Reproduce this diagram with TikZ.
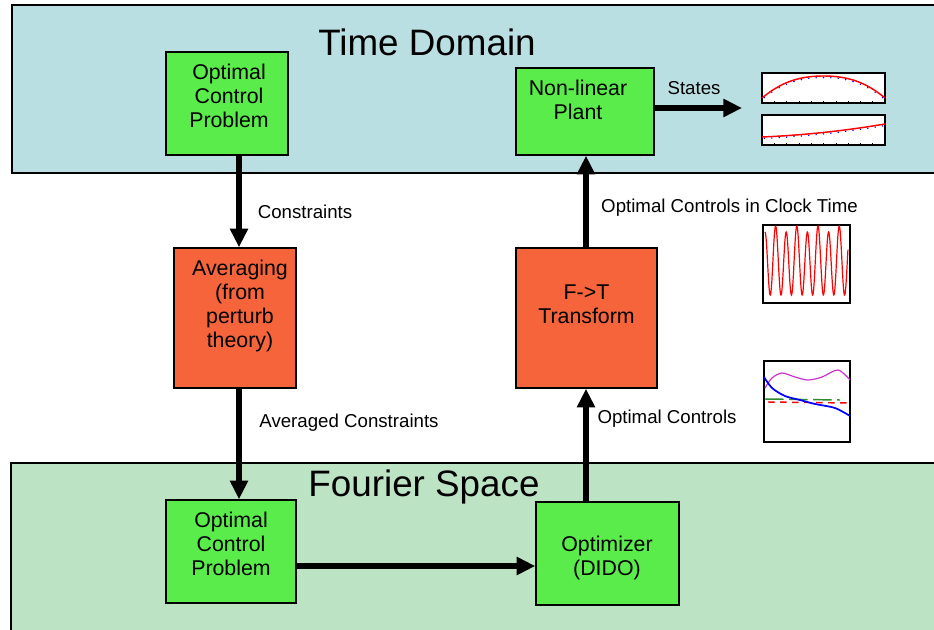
\documentclass[tikz,border=0pt]{standalone}
\usepackage{fontspec}
\setmainfont{Liberation Sans}
\usetikzlibrary{arrows.meta}
\definecolor{tdblue}{HTML}{B9DFE2}
\definecolor{fsgreen}{HTML}{BBE3C4}
\definecolor{boxgreen}{HTML}{59EC4A}
\definecolor{boxorange}{HTML}{F6643C}
\definecolor{plotmag}{HTML}{CC33CC}
\definecolor{plotgreen}{HTML}{2E8B2E}
\begin{document}
\begin{tikzpicture}[x=0.75pt,y=-0.75pt,
  panel/.style={draw=black, line width=1.5pt},
  gbox/.style={draw=black, line width=1.1pt, fill=boxgreen, inner sep=0pt},
  obox/.style={draw=black, line width=1.1pt, fill=boxorange, inner sep=0pt},
  btxt/.style={font=\fontsize{16}{18}\selectfont, align=center, inner sep=0pt},
  ltxt/.style={font=\fontsize{14}{16}\selectfont, inner sep=0pt},
  ttxt/.style={font=\fontsize{27.6}{30}\selectfont, inner sep=0pt},
  arr/.style={line width=4pt, -{Triangle[length=14pt,width=13pt]}},
  pframe/.style={draw=black, line width=0.9pt, fill=white, inner sep=0pt},
  curve/.style={line width=1.1pt}
]
\useasboundingbox (0,0) rectangle (934,630);
\clip (0,0) rectangle (934,630);
\fill[white] (0,0) rectangle (934,630);

% panels
\draw[panel, fill=tdblue] (12,5) rectangle (945,173);
\draw[panel, fill=fsgreen] (11,463) rectangle (945,645);
\node[ttxt] (tdtitle) at (427,42) {Time Domain};
\node[ttxt] (fstitle) at (424,487) {Fourier Space};

% boxes
\node[gbox, minimum width=91.5pt, minimum height=77.25pt] (ocp1) at (227,103.5) {};
\node[btxt] (ocp1t) at (229,96) {Optimal\\Control\\Problem};

\node[gbox, minimum width=103.5pt, minimum height=65.25pt] (plant) at (585,111.5) {};
\node[btxt] (plantt) at (578,100) {Non-linear\\Plant};

\node[obox, minimum width=91.5pt, minimum height=105pt] (avg) at (235,318) {};
\node[btxt] (avgt) at (240,306) {Averaging\\(from\\perturb\\theory)};

\node[obox, minimum width=105.75pt, minimum height=105pt] (ft) at (586.5,318) {};
\node[btxt] (ftt) at (586.5,304) {F-{}>T\\Transform};

\node[gbox, minimum width=97.5pt, minimum height=77.25pt] (ocp2) at (231,551.5) {};
\node[btxt] (ocp2t) at (231,544) {Optimal\\Control\\Problem};

\node[gbox, minimum width=107.25pt, minimum height=77.25pt] (opt) at (607.5,553.5) {};
\node[btxt] (optt) at (607,558) {Optimizer\\(DIDO)};

% helper coordinates
\coordinate (colL) at (239,0);
\coordinate (colR) at (586,0);
\coordinate (rowB) at (0,566);
\coordinate (rowT) at (0,108);
\coordinate (send) at (742,108);

% connectors
\draw[arr] (ocp1.south -| colL) -- (avg.north -| colL);
\draw[arr] (avg.south -| colL) -- (ocp2.north -| colL);
\draw[arr] (ocp2.east |- rowB) -- (opt.west |- rowB);
\draw[arr] (opt.north -| colR) -- (ft.south -| colR);
\draw[arr] (ft.north -| colR) -- (plant.south -| colR);
\draw[arr] (plant.east |- rowT) -- (send);

% connector labels
\node[ltxt] (lc) at (305,212) {Constraints};
\node[ltxt] (lac) at (349,423) {Averaged Constraints};
\node[ltxt] (loc) at (667,419) {Optimal Controls};
\node[ltxt] (locct) at (729.5,208) {Optimal Controls in Clock Time};
\node[ltxt] (lst) at (694,88) {States};

% state plots
\node[pframe, minimum width=92.25pt, minimum height=22.5pt] (p1) at (823.5,88) {};
\node[pframe, minimum width=92.25pt, minimum height=22.5pt] (p2) at (823.5,130) {};
\foreach \i in {0,...,10}{
  \draw[line width=0.4pt] ({762+12.3*\i},103) -- ({762+12.3*\i},101.5);
  \draw[line width=0.4pt] ({762+12.3*\i},145) -- ({762+12.3*\i},143.5);
}
\foreach \i in {0.02,0.08,...,1.0}{
  \fill[blue] ({762+123*\i},{99.5-22*sin(180*\i)*(1.45-0.45*sin(180*\i))}) circle (0.6pt);
  \fill[blue] ({762+123*\i},{138.5-13*(0.4*\i+0.6*\i*\i)}) circle (0.6pt);
}
\draw[red, curve] plot[domain=0:1, samples=60] ({762+123*\x},{98-22*sin(180*\x)*(1.45-0.45*sin(180*\x))});
\draw[red, curve] plot[domain=0:1, samples=30] ({762+123*\x},{137-13*(0.4*\x+0.6*\x*\x)});

% clock time controls plot
\node[pframe, line width=1.1pt, minimum width=65.25pt, minimum height=58.5pt] (p3) at (806.5,264) {};
\draw[red, line width=0.9pt] plot[domain=0:1, samples=240] ({765+83*\x},{262-33*cos(2818.9*\x)+3*cos(1409.4*\x)});

% optimal controls plot
\node[pframe, line width=1.1pt, minimum width=64.5pt, minimum height=60.75pt] (p4) at (807,401.5) {};
\draw[plotgreen, curve, dash pattern=on 14pt off 4pt] (765,399) -- (840,400);
\draw[red, curve, dash pattern=on 5pt off 4pt] (768,402) -- (850,403);
\draw[plotmag, line width=0.9pt] plot[smooth] coordinates {(765,388) (772,378) (782,373) (795,377) (808,380) (822,377) (838,370) (850,380)};
\draw[blue, line width=1.3pt] plot[smooth] coordinates {(764,377) (772,388) (785,396) (800,400) (815,404) (835,408) (850,416)};
\end{tikzpicture}
\end{document}
